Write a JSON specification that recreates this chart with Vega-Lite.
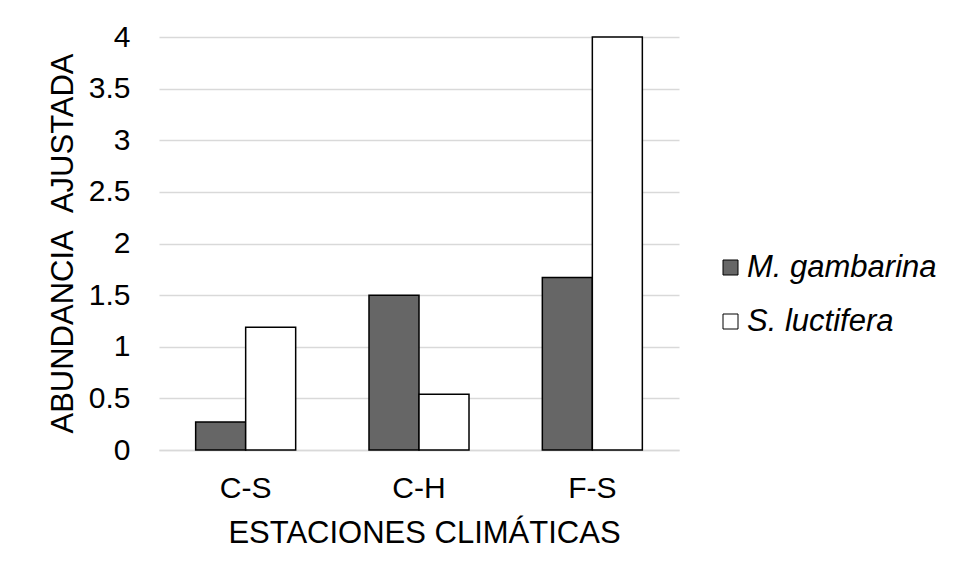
{
  "$schema": "https://vega.github.io/schema/vega-lite/v6.json",
  "width": 520,
  "height": 413,
  "autosize": {"type": "none"},
  "padding": {"left": 159, "top": 37, "right": 280, "bottom": 128},
  "background": "white",
  "config": {"view": {"stroke": null}, "font": "Liberation Sans"},
  "data": {
    "values": [
      {"estacion": "C-S", "especie": "M. gambarina", "valor": 0.27},
      {"estacion": "C-S", "especie": "S. luctifera", "valor": 1.19},
      {"estacion": "C-H", "especie": "M. gambarina", "valor": 1.5},
      {"estacion": "C-H", "especie": "S. luctifera", "valor": 0.54},
      {"estacion": "F-S", "especie": "M. gambarina", "valor": 1.67},
      {"estacion": "F-S", "especie": "S. luctifera", "valor": 4.0}
    ]
  },
  "mark": {"type": "bar", "stroke": "black", "strokeWidth": 1.5},
  "encoding": {
    "x": {
      "field": "estacion",
      "type": "nominal",
      "sort": ["C-S", "C-H", "F-S"],
      "scale": {"paddingInner": 0.423, "paddingOuter": 0.2115},
      "axis": {
        "title": "ESTACIONES CLIMÁTICAS",
        "labelAngle": 0,
        "labelFontSize": 30,
        "labelColor": "black",
        "labelBaseline": "alphabetic",
        "labelPadding": 47,
        "ticks": false,
        "tickSize": 0,
        "domainColor": "#d9d9d9",
        "domainWidth": 1.5,
        "titleFontSize": 31,
        "titleFontWeight": "normal",
        "titleColor": "black",
        "titleBaseline": "alphabetic",
        "titleY": 92,
        "titleX": 265
      }
    },
    "xOffset": {
      "field": "especie",
      "sort": ["M. gambarina", "S. luctifera"],
      "scale": {"paddingInner": 0, "paddingOuter": 0}
    },
    "y": {
      "field": "valor",
      "type": "quantitative",
      "scale": {"domain": [0, 4], "nice": false},
      "axis": {
        "title": "ABUNDANCIA\u00a0\u00a0AJUSTADA",
        "values": [0, 0.5, 1, 1.5, 2, 2.5, 3, 3.5, 4],
        "format": "~g",
        "labelFontSize": 30,
        "labelColor": "black",
        "labelPadding": 29,
        "ticks": false,
        "tickSize": 0,
        "domain": false,
        "gridColor": "#d9d9d9",
        "gridWidth": 1.5,
        "titleFontSize": 31,
        "titleFontWeight": "normal",
        "titleColor": "black",
        "titleAngle": -90,
        "titleBaseline": "alphabetic",
        "titleX": -87,
        "titleY": 206
      }
    },
    "color": {
      "field": "especie",
      "type": "nominal",
      "scale": {"domain": ["M. gambarina", "S. luctifera"], "range": ["#666666", "#ffffff"]},
      "legend": {
        "title": null,
        "orient": "none",
        "legendX": 556,
        "legendY": 215,
        "symbolType": "square",
        "symbolSize": 225,
        "symbolStrokeColor": "black",
        "symbolStrokeWidth": 1,
        "symbolOpacity": 1,
        "labelFontSize": 31,
        "labelFontStyle": "italic",
        "labelColor": "black",
        "labelOffset": 1,
        "labelLimit": 400,
        "rowPadding": 22
      }
    }
  }
}
